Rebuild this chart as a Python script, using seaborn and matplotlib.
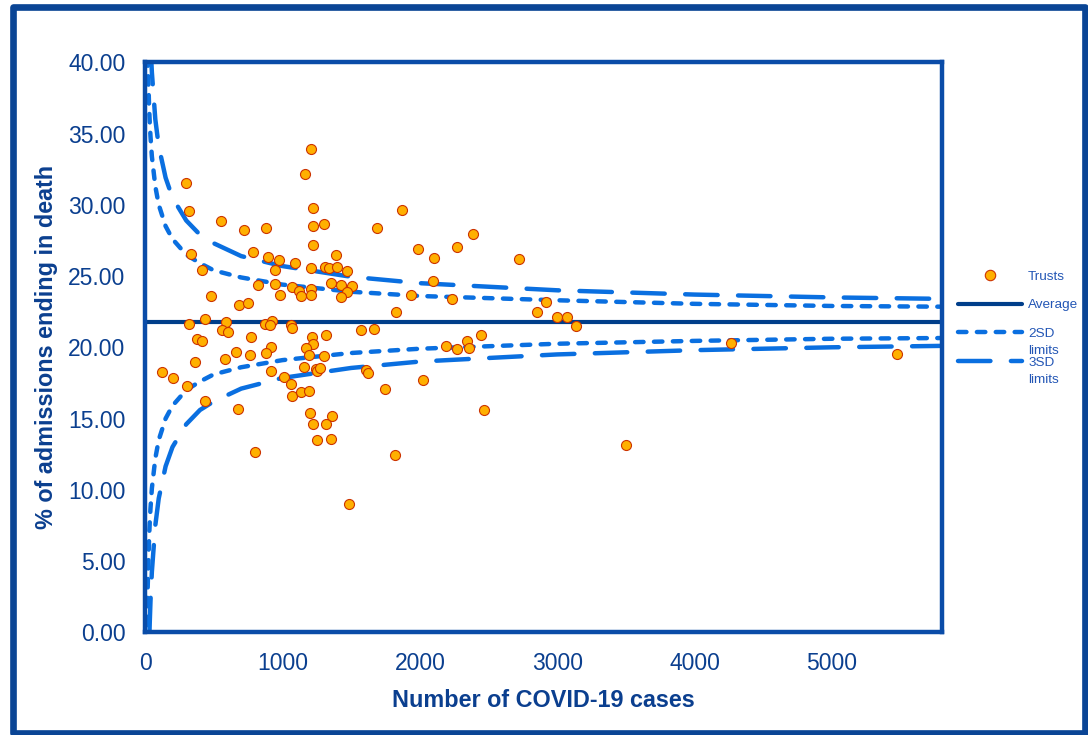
import matplotlib
matplotlib.use("Agg")
import matplotlib.pyplot as plt
from matplotlib.lines import Line2D
from matplotlib.patches import Rectangle
import seaborn as sns
import numpy as np
import pandas as pd

# ---------------- data ----------------
cases = [1211, 1162, 296, 320, 1222, 554, 721, 884, 1222, 1302, 1687, 1222, 789, 334, 895,
         973, 1392, 1092, 414, 946, 1206, 1312, 1338, 1399, 1469, 1356, 1426, 1503, 1469, 1426,
         823, 944, 980, 1068, 1121, 1138, 1206, 1206, 481, 685, 753, 320, 434, 588, 561,
         605, 874, 927, 908, 1060, 1070, 1574, 1663, 772, 380, 414, 1216, 1226, 1320, 1173,
         1190, 1304, 920, 884, 659, 766, 581, 363, 126, 206, 303, 920, 1155, 1244, 1251,
         1271, 1014, 1060, 1068, 1138, 1191, 1609, 1625, 1748, 434, 675, 1198, 1364, 1225, 1314,
         1253, 1356, 797, 1818, 1487, 1825, 1869, 1985, 2106, 2271, 2384, 2723, 2094, 1939, 2237,
         2856, 2917, 2997, 3074, 3135, 2445, 2193, 2271, 2341, 2358, 2026, 2464, 3503, 4265, 5471]
pct_death = [33.92, 32.16, 31.51, 29.55, 29.80, 28.88, 28.23, 28.39, 28.53, 28.63, 28.39, 27.20, 26.71, 26.53, 26.36,
             26.13, 26.46, 25.94, 25.45, 25.45, 25.54, 25.64, 25.56, 25.64, 25.35, 24.51, 24.35, 24.28, 23.88, 23.51,
             24.35, 24.44, 23.67, 24.21, 23.97, 23.60, 24.11, 23.69, 23.58, 22.99, 23.09, 21.66, 21.96, 21.80, 21.21,
             21.05, 21.64, 21.87, 21.56, 21.54, 21.33, 21.21, 21.28, 20.74, 20.56, 20.46, 20.71, 20.21, 20.88, 19.95,
             19.44, 19.37, 20.04, 19.62, 19.65, 19.46, 19.18, 18.95, 18.29, 17.85, 17.26, 18.36, 18.62, 18.46, 18.32,
             18.53, 17.94, 17.42, 16.58, 16.84, 16.93, 18.41, 18.20, 17.09, 16.25, 15.67, 15.41, 15.16, 14.64, 14.64,
             13.47, 13.56, 12.63, 12.46, 9.00, 22.48, 29.64, 26.88, 26.29, 27.04, 27.95, 26.20, 24.67, 23.67, 23.41,
             22.48, 23.16, 22.15, 22.15, 21.52, 20.88, 20.11, 19.86, 20.44, 19.95, 17.68, 15.58, 13.14, 20.28, 19.53]

average = 21.75

limit_x = [15, 20, 30, 35, 40, 50, 75, 100, 150, 200, 300, 400, 500, 700, 1000,
           1500, 2000, 3000, 4000, 5000, 5800]
upper_2sd = [43.0, 40.2, 36.8, 35.7, 34.8, 33.4, 31.3, 30.0, 28.5, 27.6, 26.5, 25.9, 25.4, 24.9, 24.4,
             23.9, 23.6, 23.3, 23.05, 22.9, 22.85]
lower_2sd = [0.5, 3.3, 6.7, 7.8, 8.7, 10.1, 12.2, 13.5, 15.0, 15.9, 17.0, 17.6, 18.1, 18.6, 19.1,
             19.6, 19.9, 20.25, 20.45, 20.6, 20.65]
upper_3sd = [53.7, 49.4, 44.3, 42.7, 41.3, 39.3, 36.0, 34.1, 31.9, 30.5, 28.9, 27.9, 27.3, 26.4, 25.7,
             24.95, 24.5, 24.0, 23.7, 23.5, 23.4]
lower_3sd = [-10.2, -5.9, -0.8, 0.8, 2.2, 4.25, 7.5, 9.4, 11.65, 13.0, 14.6, 15.6, 16.2, 17.1, 17.85,
             18.55, 19.0, 19.5, 19.8, 20.0, 20.1]

x_ticks = [0, 1000, 2000, 3000, 4000, 5000]
y_ticks = [0, 5, 10, 15, 20, 25, 30, 35, 40]

legend_labels = ["Trusts", "Average", "2SD", "3SD"]
legend_second_line = "limits"

# ---------------- style ----------------
sns.set_style("white")
plt.rcParams["font.family"] = ["Liberation Sans", "DejaVu Sans"]

AXIS_BLUE = "#0A4CA8"
TEXT_BLUE = "#0B3F8F"
AVG_BLUE = "#003E8A"
LIM_BLUE = "#0A6FE0"
LEG_BLUE = "#2356B5"
FACE = "#FFB000"
EDGE = "#CC3300"

W, H = 1088, 735
fig = plt.figure(figsize=(W / 100, H / 100), dpi=100)
ax = fig.add_axes([145 / W, 1 - 632.3 / H, (942 - 145) / W, (632.3 - 62.3) / H])

pts = pd.DataFrame({"cases": cases, "pct": pct_death})
lim = pd.DataFrame({"x": limit_x, "u2": upper_2sd, "l2": lower_2sd, "u3": upper_3sd, "l3": lower_3sd})

short_dash = (0, (1.9, 2.35))
long_dash = (0, (7.3, 4.6))
lw_lim = 3.2

for col, ls in [("u2", short_dash), ("l2", short_dash), ("u3", long_dash), ("l3", long_dash)]:
    sns.lineplot(data=lim, x="x", y=col, ax=ax, color=LIM_BLUE, lw=lw_lim, linestyle=ls,
                 sort=False, estimator=None, solid_capstyle="round", dash_capstyle="round",
                 legend=False, zorder=2)

ax.axhline(average, color=AVG_BLUE, lw=3.0, zorder=2)

sns.scatterplot(data=pts, x="cases", y="pct", ax=ax, color=FACE, edgecolor=EDGE,
                linewidth=0.8, s=52, zorder=3, legend=False)

ax.set_xlim(0, 5800)
ax.set_ylim(0, 40)
ax.set_xticks(x_ticks)
ax.set_yticks(y_ticks)
ax.set_yticklabels([f"{v:.2f}" for v in y_ticks])
ax.set_xticklabels([str(v) for v in x_ticks])

for sp in ax.spines.values():
    sp.set_color(AXIS_BLUE)
    sp.set_linewidth(3.2)
    sp.set_visible(True)

ax.tick_params(axis="both", direction="out", length=5, width=2.2, color=AXIS_BLUE,
               labelcolor=TEXT_BLUE, labelsize=16.5, pad=9)
ax.tick_params(axis="x", pad=9)

ax.set_xlabel("Number of COVID-19 cases", fontsize=16.8, fontweight="bold", color=TEXT_BLUE, labelpad=10)
ax.set_ylabel("% of admissions ending in death", fontsize=16.8, fontweight="bold", color=TEXT_BLUE, labelpad=7)

# ---------------- legend ----------------
handles = [
    Line2D([], [], linestyle="none", marker="o", markersize=7.5, markerfacecolor=FACE,
           markeredgecolor=EDGE, markeredgewidth=0.8),
    Line2D([], [], color=AVG_BLUE, lw=3.0),
    Line2D([], [], color=LIM_BLUE, lw=lw_lim, linestyle=short_dash, dash_capstyle="round"),
    Line2D([], [], color=LIM_BLUE, lw=lw_lim, linestyle=long_dash, dash_capstyle="round"),
]
leg = fig.legend(handles, legend_labels, loc="center left", bbox_to_anchor=(958 / W, 1 - 319.5 / H),
                 frameon=False, fontsize=9.7, handlelength=4.75, handletextpad=0.45,
                 labelspacing=1.2, borderpad=0, borderaxespad=0, labelcolor=LEG_BLUE)

fig.canvas.draw()
renderer = fig.canvas.get_renderer()
for t in leg.get_texts()[2:]:
    bb = t.get_window_extent(renderer)
    x0 = bb.x0 / W
    yc = (bb.y0 + bb.y1) / 2 - 17
    fig.text(x0, yc / H, legend_second_line, ha="left", va="center",
             fontsize=9.7, color=LEG_BLUE)

# ---------------- outer border ----------------
fig.patches.append(Rectangle((12.5 / W, 1 - 733 / H), (1085 - 12.5) / W, (733 - 7) / H,
                             transform=fig.transFigure, fill=False, edgecolor="#0A4595",
                             linewidth=4.8, joinstyle="round", zorder=0))

fig.savefig("out.png", dpi=100)
